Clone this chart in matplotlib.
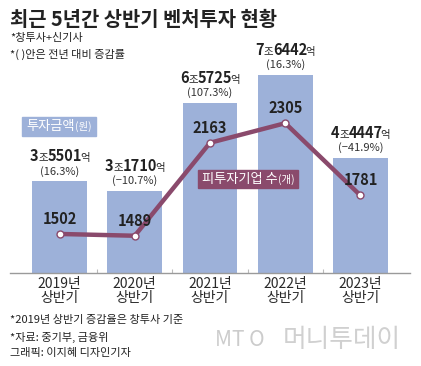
import matplotlib.pyplot as plt

plt.rcParams['font.family'] = ['Noto Sans CJK KR', 'DejaVu Sans']

periods = ['2019년\n상반기', '2020년\n상반기', '2021년\n상반기', '2022년\n상반기', '2023년\n상반기']
amounts = [35501, 31710, 65725, 76442, 44447]   # 억원
changes = ['(16.3%)', '(−10.7%)', '(107.3%)', '(16.3%)', '(−41.9%)']
companies = [1502, 1489, 2163, 2305, 1781]

BAR = '#9db1d9'
LINE = '#8a4a6c'
TXT = '#222222'
W, H = 421, 366


def fx(px):
    return px / W


def fy(py):
    return 1 - py / H


def place_row(fig, ax, pieces, xy, dy, coords='data'):
    # lay out text pieces of mixed size side by side, centred on xy
    # each piece: (text, props, extra spacing in px after it)
    renderer = fig.canvas.get_renderer()
    texts = []
    for s, props, _ in pieces:
        t = ax.annotate(s, xy, xycoords=coords, xytext=(0, dy),
                        textcoords='offset pixels', ha='left', va='baseline',
                        zorder=6, annotation_clip=False, **props)
        texts.append(t)
    widths = [t.get_window_extent(renderer).width + p[2] for t, p in zip(texts, pieces)]
    x0 = -sum(widths) / 2
    for t, w in zip(texts, widths):
        t.set_position((x0, dy))
        x0 += w
    return texts


def main():
    fig = plt.figure(figsize=(W / 100, H / 100), dpi=100)
    ax = fig.add_axes([fx(10), fy(273), 400 / W, 213 / H])

    x = list(range(len(periods)))
    ax.bar(x, amounts, width=0.73, color=BAR, zorder=1)
    ax.set_xlim(-0.658, 4.658)
    ax.set_ylim(0, 82240)
    for s in ['top', 'left', 'right']:
        ax.spines[s].set_visible(False)
    ax.spines['bottom'].set_color('#9a9a9a')
    ax.spines['bottom'].set_linewidth(1)
    ax.set_yticks([])
    ax.set_xticks(x)
    ax.set_xticklabels(periods, fontsize=10, color='#2a2a2a', linespacing=1.0)
    ax.tick_params(axis='x', length=0, pad=3)
    ax.set_xticks([0.5, 1.5, 2.5, 3.5], minor=True)
    ax.tick_params(axis='x', which='minor', direction='in', length=3,
                   color='#bbbbbb', width=0.8)

    # amount labels: bold digits, smaller 조/억
    big = dict(fontsize=10.5, fontweight='bold', color=TXT)
    small = dict(fontsize=7.5, color=TXT)
    for i, a in enumerate(amounts):
        jo, eok = a // 10000, a % 10000
        place_row(fig, ax, [(str(jo), big, 0), ('조', small, 0),
                            (str(eok), big, -2), ('억', small, 0)],
                  (i, a), 20)
        ax.annotate(changes[i], (i, a), xytext=(0, 10), textcoords='offset pixels',
                    ha='center', va='center', fontsize=8, color='#333333')

    ax2 = ax.twinx()
    ax2.set_ylim(1219, 2763)
    ax2.plot(x, companies, color=LINE, lw=3.2, marker='o', ms=5,
             mfc='white', mec=LINE, mew=1, zorder=3)
    ax2.axis('off')
    for i, c in enumerate(companies):
        ax2.annotate(str(c), (i, c), xytext=(0, 15), textcoords='offset pixels',
                     ha='center', va='center', fontsize=10.5, fontweight='bold',
                     color=TXT, zorder=6)

    # legend tags
    r = fig.canvas.get_renderer()
    for label, unit, color, cx, cy, h in [('투자금액', '(원)', BAR, 59, 126.5, 19),
                                          ('피투자기업 수', '(개)', LINE, 248, 179, 18)]:
        texts = place_row(fig, ax2,
                          [(label, dict(fontsize=9.5, color='white'), 0),
                           (unit, dict(fontsize=7.5, color='white'), 0)],
                          (fx(cx), fy(cy)), -3.5, coords='figure fraction')
        bbs = [t.get_window_extent(r) for t in texts]
        x0 = min(b.x0 for b in bbs) - 4
        x1 = max(b.x1 for b in bbs) + 4
        ax2.add_artist(plt.Rectangle((x0 / W, fy(cy) - h / 2 / H), (x1 - x0) / W, h / H,
                                     transform=fig.transFigure, color=color,
                                     zorder=5, clip_on=False))

    fig.text(fx(10), fy(19), '최근 5년간 상반기 벤처투자 현황', fontsize=14.3,
             fontweight='heavy', color=TXT, va='center')
    fig.text(fx(10), fy(38), '*창투사+신기사', fontsize=8, color=TXT, va='center')
    fig.text(fx(10), fy(54), '*( )안은 전년 대비 증감률', fontsize=8, color=TXT, va='center')

    fig.text(fx(10), fy(320), '*2019년 상반기 증감율은 창투사 기준', fontsize=8,
             color=TXT, va='center')
    fig.text(fx(10), fy(337), '*자료: 중기부, 금융위', fontsize=8, color=TXT, va='center')
    fig.text(fx(10), fy(353), '그래픽: 이지혜 디자인기자', fontsize=8, color=TXT, va='center')

    fig.text(fx(215), fy(340), 'MT O', fontsize=15, style='italic', color='#cccccc',
             va='center')
    fig.text(fx(283), fy(340), '머니투데이', fontsize=18.5, color='#d0d0d0',
             va='center', fontweight='light')

    fig.savefig('out.png', dpi=100, facecolor='white')


if __name__ == "__main__":
    main()
